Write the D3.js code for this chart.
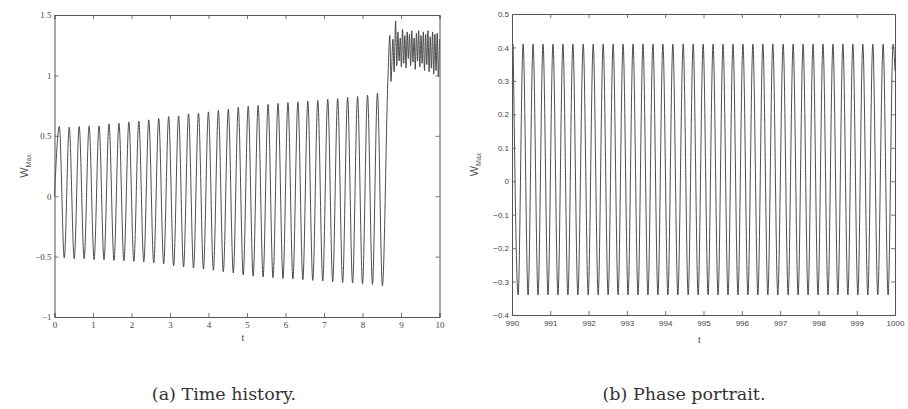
<!DOCTYPE html>
<html>
<head>
<meta charset="utf-8">
<script src="https://cdn.jsdelivr.net/npm/d3@7/dist/d3.min.js"></script>
<style>
  html, body { margin: 0; padding: 0; background: #fff; }
  svg { display: block; }
</style>
</head>
<body>
<svg id="chart" width="908" height="409"></svg>
<script>
// ---- (a) Time history: extremes of the oscillation before the jump ----
const histStart = [0, 0];
const histPeakT = [0.125, 0.383, 0.641, 0.899, 1.157, 1.416, 1.674, 1.932, 2.190, 2.449,
  2.707, 2.965, 3.223, 3.482, 3.740, 3.998, 4.256, 4.515, 4.773, 5.031, 5.289, 5.547,
  5.806, 6.064, 6.322, 6.580, 6.839, 7.097, 7.355, 7.613, 7.872, 8.130, 8.388];
const histPeakW = [0.577, 0.572, 0.577, 0.582, 0.582, 0.599, 0.605, 0.615, 0.621, 0.632,
  0.643, 0.659, 0.665, 0.682, 0.687, 0.698, 0.709, 0.720, 0.736, 0.744, 0.751, 0.760,
  0.768, 0.775, 0.781, 0.787, 0.792, 0.803, 0.808, 0.818, 0.825, 0.836, 0.853];
const histTroughT = [0.254, 0.512, 0.770, 1.028, 1.286, 1.545, 1.803, 2.061, 2.319, 2.578,
  2.836, 3.094, 3.352, 3.611, 3.869, 4.127, 4.385, 4.644, 4.902, 5.160, 5.418, 5.676,
  5.935, 6.193, 6.451, 6.709, 6.968, 7.226, 7.484, 7.742, 8.001, 8.259, 8.517];
const histTroughW = [-0.512, -0.518, -0.518, -0.526, -0.526, -0.532, -0.534, -0.540, -0.545, -0.553,
  -0.559, -0.576, -0.586, -0.595, -0.603, -0.613, -0.625, -0.636, -0.652, -0.662, -0.669, -0.675,
  -0.681, -0.686, -0.691, -0.697, -0.702, -0.708, -0.714, -0.719, -0.725, -0.730, -0.741];

// after the jump: alternating highs and lows of the fast oscillation
const jumpT = [8.66, 8.71, 8.74, 8.79, 8.82, 8.86, 8.89, 8.92, 8.95, 8.98, 9.01, 9.04, 9.07,
  9.10, 9.13, 9.16, 9.19, 9.22, 9.25, 9.28, 9.31, 9.34, 9.37, 9.40, 9.43, 9.46, 9.49, 9.52,
  9.55, 9.58, 9.61, 9.64, 9.67, 9.70, 9.73, 9.76, 9.79, 9.82, 9.85, 9.88, 9.91, 9.94, 9.97, 10.0];
const jumpW = [0.97, 1.33, 0.95, 1.30, 1.03, 1.45, 1.08, 1.36, 1.12, 1.31, 1.07, 1.38, 1.10,
  1.33, 1.06, 1.36, 1.14, 1.34, 1.08, 1.37, 1.11, 1.31, 1.05, 1.35, 1.12, 1.37, 1.07, 1.33,
  1.10, 1.36, 1.04, 1.34, 1.09, 1.37, 1.03, 1.32, 1.06, 1.36, 1.01, 1.34, 1.04, 1.35, 0.99, 1.30];

const histXTicks = [0, 1, 2, 3, 4, 5, 6, 7, 8, 9, 10];
const histYTicks = [-1, -0.5, 0, 0.5, 1, 1.5];

// ---- (b) Phase portrait: steady oscillation over 990 <= t <= 1000 ----
const phasePeakT = [990.03, 990.29, 990.55, 990.81, 991.07, 991.33, 991.59, 991.86, 992.12,
  992.38, 992.64, 992.90, 993.16, 993.42, 993.68, 993.94, 994.20, 994.47, 994.73, 994.99,
  995.25, 995.51, 995.77, 996.03, 996.29, 996.55, 996.81, 997.08, 997.34, 997.60, 997.86,
  998.12, 998.38, 998.64, 998.90, 999.16, 999.42, 999.69, 999.95];
const phasePeakW = [0.41, 0.41, 0.41, 0.41, 0.41, 0.41, 0.41, 0.41, 0.41, 0.41, 0.41, 0.41, 0.41,
  0.41, 0.41, 0.41, 0.41, 0.41, 0.41, 0.41, 0.41, 0.41, 0.41, 0.41, 0.41, 0.41, 0.41, 0.41,
  0.41, 0.41, 0.41, 0.41, 0.41, 0.41, 0.41, 0.41, 0.41, 0.41, 0.41];
const phaseTroughT = [990.16, 990.42, 990.68, 990.94, 991.20, 991.46, 991.72, 991.99, 992.25,
  992.51, 992.77, 993.03, 993.29, 993.55, 993.81, 994.07, 994.33, 994.60, 994.86, 995.12,
  995.38, 995.64, 995.90, 996.16, 996.42, 996.68, 996.94, 997.21, 997.47, 997.73, 997.99,
  998.25, 998.51, 998.77, 999.03, 999.29, 999.55, 999.82];
const phaseTroughW = [-0.34, -0.34, -0.34, -0.34, -0.34, -0.34, -0.34, -0.34, -0.34, -0.34,
  -0.34, -0.34, -0.34, -0.34, -0.34, -0.34, -0.34, -0.34, -0.34, -0.34, -0.34, -0.34, -0.34,
  -0.34, -0.34, -0.34, -0.34, -0.34, -0.34, -0.34, -0.34, -0.34, -0.34, -0.34, -0.34, -0.34,
  -0.34, -0.34];
const phaseEnd = [1000, 0.33];

const phaseXTicks = [990, 991, 992, 993, 994, 995, 996, 997, 998, 999, 1000];
const phaseYTicks = [-0.4, -0.3, -0.2, -0.1, 0, 0.1, 0.2, 0.3, 0.4, 0.5];

const captions = ["(a) Time history.", "(b) Phase portrait."];

// merge peaks and troughs into one time-ordered series
function mergeExtremes(pt, pw, tt, tw) {
  const pts = [];
  pt.forEach((t, i) => pts.push([t, pw[i]]));
  tt.forEach((t, i) => pts.push([t, tw[i]]));
  return pts.sort((a, b) => a[0] - b[0]);
}

const histSeries = [histStart]
  .concat(mergeExtremes(histPeakT, histPeakW, histTroughT, histTroughW))
  .concat(jumpT.map((t, i) => [t, jumpW[i]]));

const phaseSeries = mergeExtremes(phasePeakT, phasePeakW, phaseTroughT, phaseTroughW)
  .concat([phaseEnd]);

const svg = d3.select("#chart");

function drawPanel(o) {
  const x = d3.scaleLinear().domain(o.xDomain).range([o.left, o.right]);
  const y = d3.scaleLinear().domain(o.yDomain).range([o.bottom, o.top]);
  const g = svg.append("g");
  const tickLen = 4;
  const axisColor = "#555";

  // trace
  const line = d3.line().x(d => x(d[0])).y(d => y(d[1])).curve(d3.curveMonotoneX);
  g.append("path")
    .datum(o.series)
    .attr("d", line)
    .attr("fill", "none")
    .attr("stroke", "#3a3a3a")
    .attr("stroke-width", 0.9)
    .attr("stroke-linejoin", "round");

  // inward ticks on all four sides
  const bottom = d3.axisBottom(x).tickValues(o.xTicks).tickSize(-tickLen).tickPadding(5)
    .tickFormat(d3.format("d"));
  const top = d3.axisTop(x).tickValues(o.xTicks).tickSize(-tickLen).tickFormat("");
  const left = d3.axisLeft(y).tickValues(o.yTicks).tickSize(-tickLen).tickPadding(3)
    .tickFormat(o.yFormat);
  const right = d3.axisRight(y).tickValues(o.yTicks).tickSize(-tickLen).tickFormat("");

  const axes = [
    g.append("g").attr("transform", `translate(0,${o.bottom})`).call(bottom),
    g.append("g").attr("transform", `translate(0,${o.top})`).call(top),
    g.append("g").attr("transform", `translate(${o.left},0)`).call(left),
    g.append("g").attr("transform", `translate(${o.right},0)`).call(right)
  ];
  axes.forEach(a => {
    a.selectAll(".domain").attr("stroke", axisColor).attr("stroke-width", 1);
    a.selectAll(".tick line").attr("stroke", axisColor).attr("stroke-width", 0.8);
    a.selectAll("text").attr("fill", "#444").attr("font-size", o.tickFont)
      .attr("font-family", o.tickFamily);
  });

  // axis titles
  g.append("text")
    .attr("x", (o.left + o.right) / 2 + o.tLabelDx)
    .attr("y", o.bottom + o.tLabelDy)
    .attr("text-anchor", "middle")
    .attr("font-family", "Liberation Serif, serif")
    .attr("font-size", 10)
    .attr("fill", "#444")
    .text("t");

  const wl = g.append("text")
    .attr("transform", `translate(${o.wLabelX},${(o.top + o.bottom) / 2}) rotate(-90)`)
    .attr("text-anchor", "middle")
    .attr("font-family", "Liberation Sans, sans-serif")
    .attr("fill", "#555");
  wl.append("tspan").attr("font-size", 11).text("W");
  wl.append("tspan").attr("font-size", 7).attr("dy", 3).text("Max");

  svg.append("text")
    .attr("x", o.capX)
    .attr("y", 400)
    .attr("text-anchor", "middle")
    .attr("font-family", "DejaVu Serif, serif")
    .attr("font-size", 17.5)
    .attr("fill", "#333")
    .text(o.caption);
}

drawPanel({
  series: histSeries,
  xDomain: [0, 10], yDomain: [-1, 1.5],
  left: 54.5, right: 439.5, top: 15, bottom: 317,
  xTicks: histXTicks, yTicks: histYTicks,
  yFormat: d => (d === 0 ? "0" : d3.format("")(d)),
  tickFont: 9, tickFamily: "Liberation Serif, serif",
  tLabelDx: -4, tLabelDy: 24,
  wLabelX: 28,
  caption: captions[0], capX: 224
});

drawPanel({
  series: phaseSeries,
  xDomain: [990, 1000], yDomain: [-0.4, 0.5],
  left: 512, right: 895, top: 14, bottom: 315,
  xTicks: phaseXTicks, yTicks: phaseYTicks,
  yFormat: d => (Math.abs(d) < 1e-9 ? "0" : d3.format(".1f")(d)),
  tickFont: 8, tickFamily: "Liberation Sans, sans-serif",
  tLabelDx: -4, tLabelDy: 28,
  wLabelX: 478,
  caption: captions[1], capX: 684
});
</script>
</body>
</html>
